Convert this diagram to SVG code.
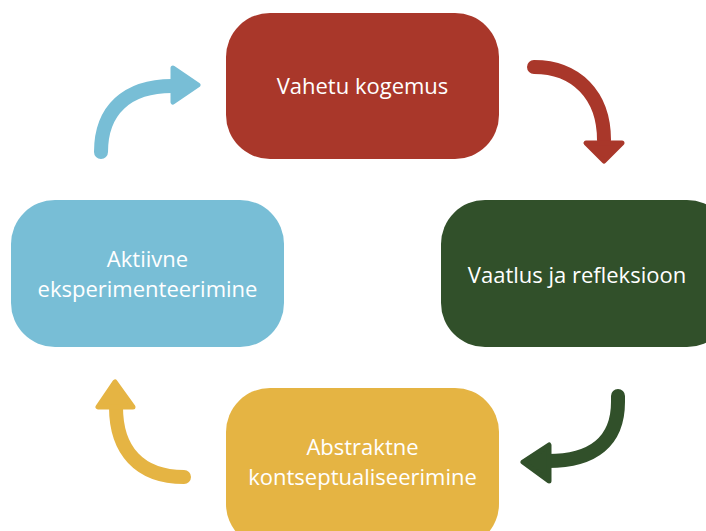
<svg xmlns="http://www.w3.org/2000/svg" width="706" height="531" viewBox="0 0 706 531">
<style>
.lbl{font-family:"Open Sans","Noto Sans","Liberation Sans",sans-serif;font-size:22px;fill:#ffffff;text-anchor:middle}
.shaft{fill:none;stroke-width:14;stroke-linecap:round}
.head{stroke-width:5;stroke-linejoin:round}
</style>
<rect width="706" height="531" fill="#ffffff"/>
<g id="connectors">
<g id="c-blue" fill="#78BED6" stroke="#78BED6">
<path class="shaft" d="M101,152 C101,110 127,86 172,86"/>
<polygon class="head" points="173,68 198,85 173,102"/>
</g>
<g id="c-red" fill="#A9372A" stroke="#A9372A">
<path class="shaft" d="M534,67 C576,67 604,95 604,140"/>
<polygon class="head" points="586,143 622,143 604,161"/>
</g>
<g id="c-green" fill="#31502A" stroke="#31502A">
<path class="shaft" d="M618,396 L618,402 C618,441 594,461 548,461"/>
<polygon class="head" points="549,445 549,481 523,462"/>
</g>
<g id="c-yellow" fill="#E5B443" stroke="#E5B443">
<path class="shaft" d="M184,477 C139,477 116,450 116,407"/>
<polygon class="head" points="98,407 133,407 115,382"/>
</g>
</g>
<g id="n-vahetu">
<rect x="226" y="13" width="273" height="146" rx="44" fill="#A9372A"/>
<text class="lbl" x="362.5" y="94">Vahetu kogemus</text>
</g>
<g id="n-vaatlus">
<rect x="441" y="200" width="290" height="147" rx="44" fill="#31502A"/>
<text class="lbl" x="577" y="283">Vaatlus ja refleksioon</text>
</g>
<g id="n-abstraktne">
<rect x="226" y="388" width="273" height="160" rx="44" fill="#E5B443"/>
<text class="lbl" x="362.5" y="455">Abstraktne</text>
<text class="lbl" x="362.5" y="485">kontseptualiseerimine</text>
</g>
<g id="n-aktiivne">
<rect x="11" y="200" width="273" height="147" rx="44" fill="#78BED6"/>
<text class="lbl" x="147.5" y="267">Aktiivne</text>
<text class="lbl" x="147.5" y="297">eksperimenteerimine</text>
</g>
</svg>
